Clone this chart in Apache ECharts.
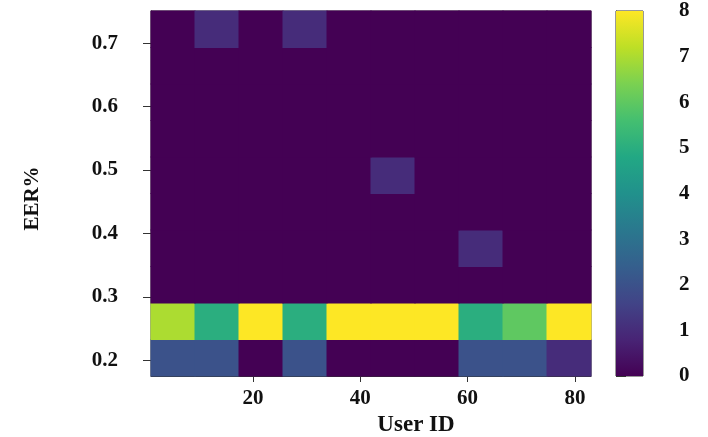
<!DOCTYPE html>
<html>
<head>
<meta charset="utf-8">
<script src="https://cdn.jsdelivr.net/npm/echarts@6/dist/echarts.min.js"></script>
<style>
html,body{margin:0;padding:0;background:#fff;}
#chart{width:708px;height:437px;}
</style>
</head>
<body>
<div id="chart"></div>
<script>
// Bin edges (histogram2d, 10 x 10)
const userBinEdges = [1, 9.2, 17.4, 25.6, 33.8, 42, 50.2, 58.4, 66.6, 74.8, 83];
const eerBinEdges = [0.175, 0.2326, 0.2902, 0.3478, 0.4054, 0.463, 0.5206, 0.5782, 0.6358, 0.6934, 0.751];
// Counts per EER row (bottom to top), one value per user bin
const countsRow0 = [2, 2, 0, 2, 0, 0, 0, 2, 2, 1];
const countsRow1 = [7, 5, 8, 5, 8, 8, 8, 5, 6, 8];
const countsRow2 = [0, 0, 0, 0, 0, 0, 0, 0, 0, 0];
const countsRow3 = [0, 0, 0, 0, 0, 0, 0, 1, 0, 0];
const countsRow4 = [0, 0, 0, 0, 0, 0, 0, 0, 0, 0];
const countsRow5 = [0, 0, 0, 0, 0, 1, 0, 0, 0, 0];
const countsRow6 = [0, 0, 0, 0, 0, 0, 0, 0, 0, 0];
const countsRow7 = [0, 0, 0, 0, 0, 0, 0, 0, 0, 0];
const countsRow8 = [0, 0, 0, 0, 0, 0, 0, 0, 0, 0];
const countsRow9 = [0, 1, 0, 1, 0, 0, 0, 0, 0, 0];
// Tick labels
const xTicks = [20, 40, 60, 80];
const yTicks = [0.2, 0.3, 0.4, 0.5, 0.6, 0.7];
const cbarTicks = [0, 1, 2, 3, 4, 5, 6, 7, 8];
const viridis = ['#440154','#482475','#414487','#355f8d','#2a788e','#21918c','#22a884','#44bf70','#7ad151','#bddf26','#fde725'];

const rows = [countsRow0, countsRow1, countsRow2, countsRow3, countsRow4, countsRow5, countsRow6, countsRow7, countsRow8, countsRow9];
const cells = [];
rows.forEach((row, r) => {
  row.forEach((v, c) => {
    const x0 = userBinEdges[c], x1 = userBinEdges[c + 1];
    const y0 = eerBinEdges[r], y1 = eerBinEdges[r + 1];
    cells.push([(x0 + x1) / 2, (y0 + y1) / 2, v, x1 - x0, y1 - y0]);
  });
});

const font = "'Liberation Serif', 'DejaVu Serif', serif";
const lbl = {fontFamily: font, fontWeight: 'bold', fontSize: 21, color: '#111'};

const chart = echarts.init(document.getElementById('chart'));
chart.setOption({
  animation: false,
  backgroundColor: '#fff',
  grid: [
    {left: 151, top: 11, width: 440, height: 365, show: true, borderColor: '#333', borderWidth: 1, backgroundColor: 'transparent', outerBoundsMode: 'none', containLabel: false},
    {left: 616, top: 11, width: 27, height: 365, show: true, borderColor: '#333', borderWidth: 1, backgroundColor: 'transparent', outerBoundsMode: 'none', containLabel: false}
  ],
  visualMap: {
    type: 'continuous', show: false, min: 0, max: 8, dimension: 2, seriesIndex: 0,
    inRange: {color: viridis}
  },
  xAxis: [
    {
      type: 'value', gridIndex: 0, min: userBinEdges[0], max: userBinEdges[userBinEdges.length - 1],
      name: 'User ID', nameLocation: 'middle', nameGap: 36,
      nameTextStyle: {fontFamily: font, fontWeight: 'bold', fontSize: 23, color: '#111', padding: [0, 0, 0, 90]},
      axisLine: {show: true, lineStyle: {color: '#333'}},
      axisTick: {show: true, length: 6, customValues: xTicks, lineStyle: {color: '#333'}},
      axisLabel: Object.assign({customValues: xTicks, margin: 12}, lbl),
      splitLine: {show: false}
    },
    {type: 'value', gridIndex: 1, min: 0, max: 1, show: false}
  ],
  yAxis: [
    {
      type: 'value', gridIndex: 0, min: eerBinEdges[0], max: eerBinEdges[eerBinEdges.length - 1],
      name: 'EER%', nameLocation: 'middle', nameGap: 108, nameRotate: 90,
      nameTextStyle: {fontFamily: font, fontWeight: 'bold', fontSize: 21, color: '#111', padding: [0, 10, 0, 0]},
      axisLine: {show: true, lineStyle: {color: '#333'}},
      axisTick: {show: true, length: 8, customValues: yTicks, lineStyle: {color: '#333'}},
      axisLabel: Object.assign({customValues: yTicks, margin: 33, formatter: v => v.toFixed(1)}, lbl),
      splitLine: {show: false}
    },
    {
      type: 'value', gridIndex: 1, min: 0, max: 8, position: 'right',
      axisLine: {show: true, lineStyle: {color: '#333'}},
      axisTick: {show: true, length: 10, customValues: cbarTicks, lineStyle: {color: '#333'}},
      axisLabel: Object.assign({customValues: cbarTicks, margin: 36}, lbl),
      splitLine: {show: false}
    }
  ],
  series: [
    {
      type: 'custom', xAxisIndex: 0, yAxisIndex: 0, data: cells,
      encode: {x: 0, y: 1},
      renderItem: function (params, api) {
        const c = api.coord([api.value(0), api.value(1)]);
        const s = api.size([api.value(3), api.value(4)]);
        const col = api.visual('color');
        return {
          type: 'rect',
          shape: {x: c[0] - s[0] / 2 - 0.5, y: c[1] - s[1] / 2 - 0.5, width: s[0] + 1, height: s[1] + 1},
          style: {fill: col, stroke: null, lineWidth: 0}
        };
      }
    },
    {
      type: 'custom', xAxisIndex: 1, yAxisIndex: 1, data: [[0, 0, 1, 8]],
      encode: {x: 0, y: 1},
      renderItem: function (params, api) {
        const p0 = api.coord([api.value(0), api.value(1)]);
        const p1 = api.coord([api.value(2), api.value(3)]);
        return {
          type: 'rect',
          shape: {x: p0[0], y: p1[1], width: p1[0] - p0[0], height: p0[1] - p1[1]},
          style: {
            fill: new echarts.graphic.LinearGradient(0, 1, 0, 0,
              viridis.map((c, i) => ({offset: i / (viridis.length - 1), color: c})))
          }
        };
      }
    }
  ]
});
</script>
</body>
</html>
